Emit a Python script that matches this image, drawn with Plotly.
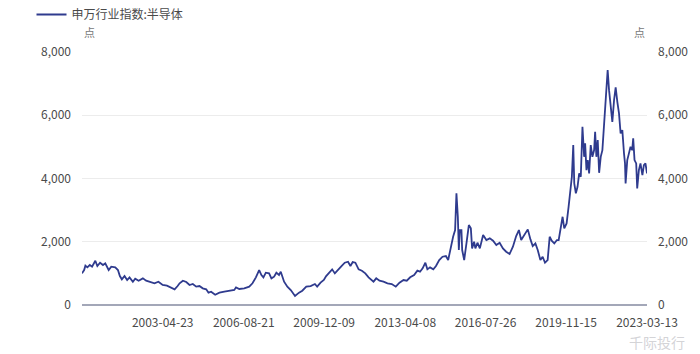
import plotly.graph_objects as go

series_name = "申万行业指数:半导体"
unit_label = "点"

dates = [
    "1999-12-30", "2000-01-31", "2000-02-19", "2000-03-19", "2000-04-25", "2000-05-29",
    "2000-07-17", "2000-08-16", "2000-09-26", "2000-11-09", "2000-12-13", "2001-02-02",
    "2001-03-13", "2001-05-12", "2001-06-21", "2001-07-20", "2001-08-19", "2001-09-28",
    "2001-11-06", "2001-12-12", "2002-01-31", "2002-03-07", "2002-04-27", "2002-06-30",
    "2002-08-18", "2002-10-08", "2002-12-21", "2003-02-18", "2003-04-23", "2003-06-26",
    "2003-08-25", "2003-10-19", "2003-12-03", "2004-01-02", "2004-02-20", "2004-04-11",
    "2004-05-30", "2004-07-18", "2004-09-07", "2004-10-26", "2004-12-14", "2005-02-04",
    "2005-03-10", "2005-04-19", "2005-06-18", "2005-08-21", "2005-11-03", "2006-01-17",
    "2006-04-01", "2006-04-27", "2006-06-15", "2006-08-28", "2006-11-11", "2006-12-30",
    "2007-02-19", "2007-04-09", "2007-05-13", "2007-06-12", "2007-07-18", "2007-09-05",
    "2007-10-10", "2007-11-19", "2007-12-23", "2008-02-01", "2008-02-27", "2008-04-17",
    "2008-06-05", "2008-07-26", "2008-09-28", "2008-11-27", "2009-01-15", "2009-03-16",
    "2009-05-20", "2009-07-23", "2009-08-26", "2009-10-16", "2009-12-04", "2010-01-08",
    "2010-02-28", "2010-04-08", "2010-05-18", "2010-07-06", "2010-08-26", "2010-10-14",
    "2010-12-02", "2011-01-07", "2011-02-10", "2011-03-22", "2011-05-10", "2011-06-28",
    "2011-08-18", "2011-10-06", "2011-12-19", "2012-01-29", "2012-03-18", "2012-05-17",
    "2012-07-16", "2012-09-18", "2012-11-17", "2013-01-12", "2013-03-13", "2013-05-01",
    "2013-06-21", "2013-08-19", "2013-10-07", "2013-11-16", "2013-12-25", "2014-02-04",
    "2014-03-06", "2014-04-15", "2014-06-03", "2014-07-13", "2014-08-31", "2014-10-19",
    "2014-12-09", "2015-01-12", "2015-02-15", "2015-03-27", "2015-04-26", "2015-05-16",
    "2015-06-06", "2015-06-21", "2015-07-06", "2015-07-30", "2015-08-10", "2015-09-09",
    "2015-10-13", "2015-11-18", "2015-12-18", "2016-01-06", "2016-02-05", "2016-02-24",
    "2016-03-26", "2016-05-01", "2016-06-19", "2016-08-07", "2016-09-27", "2016-11-15",
    "2017-01-03", "2017-02-22", "2017-04-12", "2017-05-31", "2017-07-21", "2017-09-09",
    "2017-10-28", "2017-12-08", "2018-01-11", "2018-03-02", "2018-04-20", "2018-05-30",
    "2018-07-03", "2018-08-12", "2018-09-16", "2018-10-26", "2018-11-29", "2019-01-03",
    "2019-02-12", "2019-03-14", "2019-04-13", "2019-05-23", "2019-07-01", "2019-07-27",
    "2019-08-30", "2019-09-24", "2019-10-19", "2019-11-23", "2019-12-23", "2020-01-17",
    "2020-02-10", "2020-03-02", "2020-03-17", "2020-04-10", "2020-05-05", "2020-05-30",
    "2020-06-23", "2020-07-18", "2020-08-12", "2020-08-27", "2020-09-16", "2020-10-05",
    "2020-10-26", "2020-11-19", "2020-12-14", "2021-01-09", "2021-01-24", "2021-02-12",
    "2021-03-04", "2021-03-25", "2021-04-18", "2021-05-13", "2021-06-07", "2021-07-01",
    "2021-07-16", "2021-07-31", "2021-08-21", "2021-09-14", "2021-10-09", "2021-11-04",
    "2021-11-28", "2021-12-23", "2022-01-17", "2022-02-10", "2022-03-08", "2022-04-02",
    "2022-04-17", "2022-04-26", "2022-05-21", "2022-06-15", "2022-07-09", "2022-08-03",
    "2022-08-18", "2022-09-07", "2022-10-02", "2022-10-17", "2022-11-11", "2022-12-05",
    "2023-01-03", "2023-01-25", "2023-02-18", "2023-03-13",
]

values = [
    1000, 1106, 1243, 1190, 1264, 1211,
    1400, 1232, 1337, 1264, 1317, 1106,
    1211, 1190, 1106, 916, 812, 916,
    790, 875, 737, 832, 769, 843,
    769, 727, 686, 737, 632, 611,
    548, 495, 600, 686, 769, 727,
    632, 664, 580, 600, 527, 495,
    390, 421, 326, 390, 421, 453,
    474, 558, 506, 527, 580, 686,
    875, 1106, 948, 875, 1022, 1000,
    843, 896, 1022, 948, 1053, 737,
    580, 474, 284, 390, 453, 580,
    600, 664, 580, 706, 790, 916,
    1022, 1127, 1000, 1127, 1232, 1337,
    1369, 1232, 1359, 1337, 1127, 1085,
    1000, 875, 737, 843, 769, 737,
    686, 664, 580, 706, 790, 769,
    875, 948, 1085, 1053, 1159, 1337,
    1127, 1190, 1127, 1232, 1422, 1527,
    1548, 1422, 1790, 2158, 2370, 3530,
    2790, 1738, 2370, 2370, 1738, 1422,
    1950, 2528, 2423, 1790, 2000, 1790,
    1970, 1790, 2212, 2054, 2107, 2033,
    1896, 1970, 1790, 1685, 1612, 1843,
    2180, 2370, 2054, 2212, 2391, 2075,
    1864, 1950, 1738, 1422, 1527, 1337,
    1422, 2158, 2033, 1950, 2054, 2054,
    2475, 2790, 2423, 2580, 3106, 3530,
    4054, 5056, 3845, 3530, 3738, 4162,
    4054, 5634, 4686, 5110, 4266, 4582,
    4162, 5056, 4686, 4898, 5476, 4686,
    5214, 4180, 4686, 4898, 5742, 6582,
    6794, 7426, 6794, 6374, 5792, 6478,
    6879, 6424, 6058, 5426, 5530, 4794,
    4478, 3845, 4582, 4794, 5002, 4898,
    5268, 4582, 4478, 3688, 4266, 4478,
    4108, 4424, 4478, 4162,
]

x_tick_dates = ["2003-04-23", "2006-08-21", "2009-12-09", "2013-04-08",
                "2016-07-26", "2019-11-15", "2023-03-13"]
y_ticks = [0, 2000, 4000, 6000, 8000]
y_tick_text = ["0", "2,000", "4,000", "6,000", "8,000"]

line_color = "#2f3b8e"
text_color = "#4a4a4a"
font_family = "Noto Sans CJK SC, Noto Sans, sans-serif"

fig = go.Figure()
fig.add_trace(go.Scatter(
    x=dates, y=values, mode="lines", name=series_name,
    line=dict(color=line_color, width=1.8), yaxis="y",
))
# invisible companion so the right axis is drawn with identical scale
fig.add_trace(go.Scatter(
    x=dates, y=values, mode="lines", showlegend=False, hoverinfo="skip",
    line=dict(color="rgba(0,0,0,0)", width=0), yaxis="y2",
))

fig.update_layout(
    width=700, height=354,
    margin=dict(l=82, r=50, t=52, b=49),
    paper_bgcolor="white", plot_bgcolor="white",
    font=dict(family=font_family, size=12, color=text_color),
    showlegend=True,
    legend=dict(
        orientation="h", xref="container", yref="container",
        x=0.045, y=1.0, xanchor="left", yanchor="top",
        font=dict(size=12, color=text_color),
        bgcolor="rgba(0,0,0,0)", itemwidth=30,
    ),
    xaxis=dict(
        type="date",
        range=["1999-12-30", "2023-03-13"],
        tickvals=x_tick_dates, ticktext=x_tick_dates,
        showgrid=False, zeroline=False,
        showline=False, ticks="", ticklabelstandoff=9,
        tickfont=dict(size=12, color=text_color),
    ),
    yaxis=dict(
        range=[0, 8000], tickvals=y_ticks, ticktext=y_tick_text,
        showgrid=True, gridcolor="#ececec", gridwidth=1,
        zeroline=True, zerolinecolor="#a3a7b8", zerolinewidth=2,
        showline=False, ticks="", ticklabelstandoff=10,
        tickfont=dict(size=12, color=text_color),
    ),
    yaxis2=dict(
        range=[0, 8000], tickvals=y_ticks, ticktext=y_tick_text,
        overlaying="y", side="right", showgrid=False, zeroline=False,
        showline=False, ticks="", ticklabelstandoff=10,
        tickfont=dict(size=12, color=text_color),
    ),
    annotations=[
        dict(text=unit_label, xref="paper", yref="paper", x=0.0, y=1.04,
             xanchor="left", yanchor="bottom", showarrow=False,
             font=dict(size=11, color="#777")),
        dict(text=unit_label, xref="paper", yref="paper", x=1.0, y=1.04,
             xanchor="right", yanchor="bottom", showarrow=False,
             font=dict(size=11, color="#777")),
        dict(text="千际投行", xref="paper", yref="paper", x=1.07, y=-0.145,
             xanchor="right", yanchor="middle", showarrow=False,
             font=dict(size=14, color="rgba(200,200,205,0.8)")),
    ],
)

fig.write_html("out.html")
